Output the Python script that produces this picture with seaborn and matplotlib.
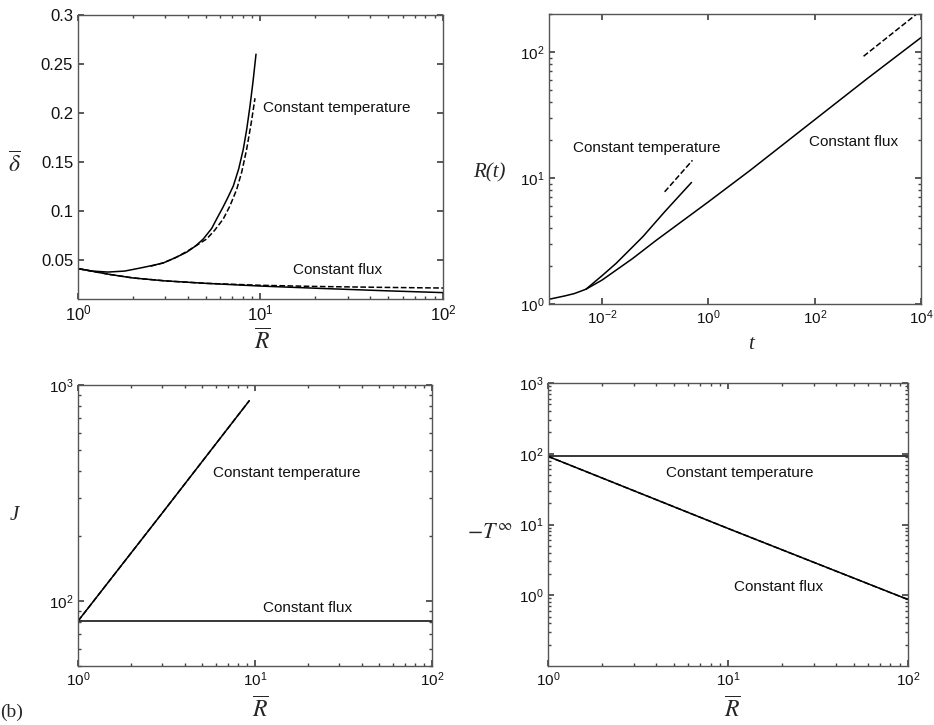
import matplotlib
matplotlib.use("Agg")
import matplotlib.pyplot as plt
import matplotlib.ticker as mticker
import seaborn as sns

# Werte

# oben links: delta gegen R
r_temp = [1.0, 1.2, 1.46, 1.8, 2.19, 2.6, 2.94, 3.4, 3.94, 4.4, 4.86, 5.4, 5.8, 6.2, 6.6,
          7.1, 7.6, 8.05, 8.4, 8.76, 9.1, 9.45]
delta_temp = [0.041, 0.0385, 0.0375, 0.0385, 0.0416, 0.0445, 0.0469, 0.052, 0.0578, 0.064,
              0.0713, 0.082, 0.093, 0.103, 0.113, 0.1255, 0.143, 0.163, 0.183, 0.207, 0.232, 0.260]
r_temp_asym = [2.5, 2.94, 3.47, 4.11, 5.07, 5.6, 6.25, 6.8, 7.41, 7.9, 8.4, 8.9, 9.33]
delta_temp_asym = [0.0435, 0.0469, 0.0527, 0.0605, 0.0713, 0.080, 0.0917, 0.105, 0.122,
                   0.140, 0.163, 0.190, 0.215]
r_flux = [1.0, 1.5, 2.0, 3.0, 5.0, 10.0, 20.0, 50.0, 100.0]
delta_flux = [0.041, 0.035, 0.0315, 0.0285, 0.026, 0.0232, 0.021, 0.0183, 0.0165]
delta_flux_asym = [0.041, 0.035, 0.0315, 0.0285, 0.026, 0.0240, 0.0228, 0.0218, 0.0212]

# oben rechts: R(t)
t_flux = [1e-3, 2e-3, 3e-3, 4.96e-3, 1e-2, 0.0377, 0.105, 0.415, 1.0, 6.11, 83.4, 1000.0, 1e4]
rt_flux = [1.09, 1.16, 1.21, 1.31, 1.55, 2.3, 3.21, 4.92, 6.47, 11.5, 27.3, 62.0, 130.0]
t_temp = [4.96e-3, 1e-2, 0.0183, 0.0583, 0.150, 0.48]
rt_temp = [1.31, 1.68, 2.10, 3.42, 5.39, 9.21]
t_temp_asym = [0.150, 0.50]
rt_temp_asym = [7.76, 13.8]
t_flux_asym = [830.0, 8300.0]
rt_flux_asym = [92.4, 200.0]

# unten links: J gegen R
r_j_temp = [1.0, 3.0, 9.29]
j_temp = [80.7, 256.0, 846.0]
r_j_flux = [1.0, 100.0]
j_flux = [80.7, 80.7]

# unten rechts: -T_inf gegen R
r_tinf_temp = [1.0, 100.0]
tinf_temp = [92.0, 92.0]
r_tinf_flux = [1.0, 10.0, 100.0]
tinf_flux = [92.0, 8.8, 0.87]

sns.set_theme(style="ticks")
plt.rcParams["font.family"] = ["Liberation Sans", "DejaVu Sans"]
plt.rcParams["mathtext.fontset"] = "stix"

fig = plt.figure(figsize=(9.34, 7.25), dpi=100)
ax1 = fig.add_axes([0.0835, 0.5876, 0.3908, 0.3917])
ax2 = fig.add_axes([0.5878, 0.5807, 0.3983, 0.4000])
ax3 = fig.add_axes([0.0835, 0.0814, 0.3790, 0.3876])
ax4 = fig.add_axes([0.5867, 0.0814, 0.3854, 0.3903])

serif = {"family": "Liberation Serif", "size": 15}


def linie(ax, x, y, gestrichelt=False):
    sns.lineplot(x=x, y=y, ax=ax, color="black", linewidth=1.1,
                 linestyle="--" if gestrichelt else "-", estimator=None)


def stil(ax, groesse):
    ax.tick_params(which="both", direction="in", top=True, right=True,
                   colors="#444", labelcolor="#111", labelsize=groesse)
    ax.tick_params(which="major", length=4)
    ax.tick_params(which="minor", length=2.5)
    for s in ax.spines.values():
        s.set_color("#555")
        s.set_linewidth(1.0)


def text(ax, x, y, s):
    ax.text(x, y, s, transform=ax.transAxes, fontsize=11, va="center", ha="left", color="#111")


# Panel oben links
linie(ax1, r_temp, delta_temp)
linie(ax1, r_temp_asym, delta_temp_asym, True)
linie(ax1, r_flux, delta_flux)
linie(ax1, r_flux, delta_flux_asym, True)
ax1.set_xscale("log")
ax1.set_xlim(1, 100)
ax1.set_ylim(0.01, 0.3)
ax1.set_yticks([0.05, 0.1, 0.15, 0.2, 0.25, 0.3])
ax1.yaxis.set_major_formatter(mticker.FormatStrFormatter("%g"))
stil(ax1, 12)
ax1.set_ylabel(r"$\overline{\delta}$", fontsize=17, rotation=0, ha="center", va="center")
ax1.yaxis.set_label_coords(-0.173, 0.472)
ax1.set_xlabel(r"$\overline{R}$", fontsize=17, va="center")
ax1.xaxis.set_label_coords(0.504, -0.15)
text(ax1, 0.507, 0.6725, "Constant temperature")
text(ax1, 0.589, 0.102, "Constant flux")

# Panel oben rechts
linie(ax2, t_flux, rt_flux)
linie(ax2, t_temp, rt_temp)
linie(ax2, t_temp_asym, rt_temp_asym, True)
linie(ax2, t_flux_asym, rt_flux_asym, True)
ax2.set_xscale("log")
ax2.set_yscale("log")
ax2.set_xlim(1e-3, 1e4)
ax2.set_ylim(1, 200)
ax2.set_xticks([1e-2, 1, 1e2, 1e4])
ax2.xaxis.set_minor_locator(mticker.NullLocator())
stil(ax2, 11)
ax2.set_ylabel("R(t)", fontdict=serif, style="italic", rotation=0, ha="center", va="center")
ax2.yaxis.set_label_coords(-0.159, 0.452)
ax2.set_xlabel("t", fontdict=serif, style="italic", va="center")
ax2.xaxis.set_label_coords(0.543, -0.141)
text(ax2, 0.0645, 0.538, "Constant temperature")
text(ax2, 0.699, 0.559, "Constant flux")

# Panel unten links
linie(ax3, r_j_temp, j_temp)
linie(ax3, r_j_temp, j_temp, True)
linie(ax3, r_j_flux, j_flux)
ax3.set_xscale("log")
ax3.set_yscale("log")
ax3.set_xlim(1, 100)
ax3.set_ylim(50, 1000)
ax3.set_yticks([100, 1000])
stil(ax3, 11)
ax3.set_ylabel("J", fontdict=serif, style="italic", rotation=0, ha="center", va="center")
ax3.yaxis.set_label_coords(-0.181, 0.537)
ax3.set_xlabel(r"$\overline{R}$", fontsize=17, va="center")
ax3.xaxis.set_label_coords(0.514, -0.155)
text(ax3, 0.381, 0.687, "Constant temperature")
text(ax3, 0.523, 0.206, "Constant flux")

# Panel unten rechts
linie(ax4, r_tinf_temp, tinf_temp)
linie(ax4, r_tinf_flux, tinf_flux)
linie(ax4, r_tinf_flux, tinf_flux, True)
ax4.set_xscale("log")
ax4.set_yscale("log")
ax4.set_xlim(1, 100)
ax4.set_ylim(0.1, 1000)
ax4.set_yticks([1, 10, 100, 1000])
stil(ax4, 11)
ax4.set_ylabel(r"$-T^{\infty}$", fontsize=16, rotation=0, ha="center", va="center")
ax4.yaxis.set_label_coords(-0.161, 0.47)
ax4.set_xlabel(r"$\overline{R}$", fontsize=17, va="center")
ax4.xaxis.set_label_coords(0.511, -0.155)
text(ax4, 0.328, 0.682, "Constant temperature")
text(ax4, 0.517, 0.279, "Constant flux")

fig.text(0.0, 0.018, "(b)", fontfamily="Liberation Serif", fontsize=14, va="center", ha="left")

fig.savefig("out.png", dpi=100)
